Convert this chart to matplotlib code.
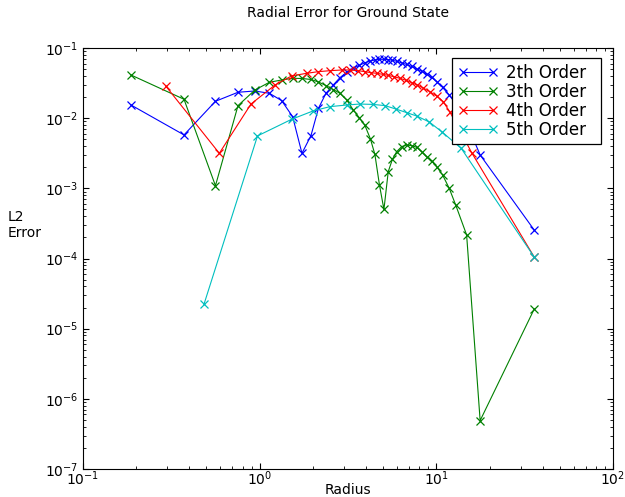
import matplotlib
matplotlib.use("Agg")
import matplotlib.pyplot as plt

## radial grid shared by the 2nd and 3rd order runs
r_grid = [0.187, 0.373, 0.562, 0.754, 0.94, 1.136, 1.331, 1.537, 1.735, 1.951,
          2.151, 2.372, 2.609, 2.847, 3.107, 3.386, 3.67, 3.943, 4.236, 4.49,
          4.764, 5.051, 5.343, 5.643, 5.961, 6.36, 6.79, 7.25, 7.73, 8.26,
          8.81, 9.40, 10.04, 10.85, 11.83, 12.90, 14.84, 17.7, 35.8]

err_2 = [0.0154, 0.00577, 0.0174, 0.0234, 0.0244, 0.0226, 0.0178, 0.0105, 0.00316, 0.00563,
         0.0138, 0.0226, 0.0297, 0.0378, 0.0451, 0.0514, 0.0567, 0.0617, 0.0653, 0.0675,
         0.069, 0.069, 0.0684, 0.0668, 0.0647, 0.0615, 0.0582, 0.0545, 0.0506, 0.0466,
         0.0426, 0.038, 0.0333, 0.0274, 0.0214, 0.0159, 0.0085, 0.00299, 2.55e-4]

err_3 = [0.0412, 0.0186, 0.00109, 0.0151, 0.0252, 0.0325, 0.035, 0.037, 0.0368, 0.0356,
         0.0328, 0.0292, 0.0256, 0.0226, 0.0182, 0.0131, 0.0101, 0.00787, 0.00506, 0.00304,
         0.00112, 0.0005, 0.00173, 0.0026, 0.00333, 0.00393, 0.00415, 0.00406, 0.00385, 0.00333,
         0.00283, 0.00245, 0.00204, 0.00155, 0.0010, 0.00057, 2.17e-4, 4.9e-7, 1.9e-5]

r_4 = [0.294, 0.591, 0.893, 1.221, 1.517, 1.845, 2.146, 2.499, 2.91, 3.24,
       3.61, 3.94, 4.25, 4.59, 4.97, 5.34, 5.75, 6.22, 6.73, 7.24,
       7.80, 8.43, 9.20, 10.03, 10.94, 11.94, 13.07, 14.32, 15.84, 35.8]
err_4 = [0.0287, 0.00316, 0.0159, 0.0297, 0.040, 0.0436, 0.046, 0.0475, 0.0486, 0.0486,
         0.0475, 0.046, 0.0445, 0.0436, 0.0422, 0.0408, 0.039, 0.037, 0.0347, 0.0321,
         0.0297, 0.0269, 0.0238, 0.0207, 0.0172, 0.0122, 0.0080, 0.00522, 0.00323, 1.05e-4]

r_5 = [0.484, 0.972, 1.517, 2.01, 2.50, 3.107, 3.69, 4.39, 5.12, 5.90,
       6.79, 7.73, 9.12, 10.82, 13.83, 35.8]
err_5 = [2.23e-5, 0.00558, 0.00964, 0.0127, 0.0146, 0.0154, 0.0159, 0.0157, 0.0151, 0.0135,
         0.012, 0.01075, 0.00883, 0.0063, 0.00372, 1.05e-4]

labels = ["2th Order", "3th Order", "4th Order", "5th Order"]

fig = plt.figure(figsize=(6.25, 4.97), dpi=100)
ax = fig.add_axes([83/625., 1 - 469/497., 530/625., 421/497.])

sty = dict(marker="x", markersize=6, markeredgewidth=0.9, linewidth=0.8)
ax.plot(r_grid, err_2, color="b", label=labels[0], **sty)
ax.plot(r_grid, err_3, color="g", label=labels[1], **sty)
ax.plot(r_4, err_4, color="r", label=labels[2], **sty)
ax.plot(r_5, err_5, color="c", label=labels[3], **sty)

ax.set_xscale("log")
ax.set_yscale("log")
ax.set_xlim(0.1, 100)
ax.set_ylim(1e-7, 1e-1)

ax.tick_params(which="both", direction="in", top=True, right=True, labelsize=10)
ax.tick_params(which="major", length=4, width=0.8)
ax.tick_params(which="minor", length=2, width=0.6)
ax.tick_params(axis="x", which="both", pad=0)

ax.set_title("Radial Error for Ground State", fontsize=10, pad=22)
ax.set_xlabel("Radius", fontsize=10, labelpad=-3)
ax.set_ylabel("L2\nError", fontsize=10, rotation=0, ha="left", va="center",
              multialignment="left")
ax.yaxis.set_label_coords(-0.143, 0.58)

leg = ax.legend(loc="upper left", bbox_to_anchor=(0.6962, 0.5, 0.2806, 0.4755),
                mode="expand", borderaxespad=0,
                fontsize=12, numpoints=2, handlelength=2.4, handletextpad=0.5,
                labelspacing=0.05, borderpad=0.35, fancybox=False, framealpha=1)
leg.get_frame().set_edgecolor("black")
leg.get_frame().set_linewidth(0.9)

fig.savefig("out.png", dpi=100)
